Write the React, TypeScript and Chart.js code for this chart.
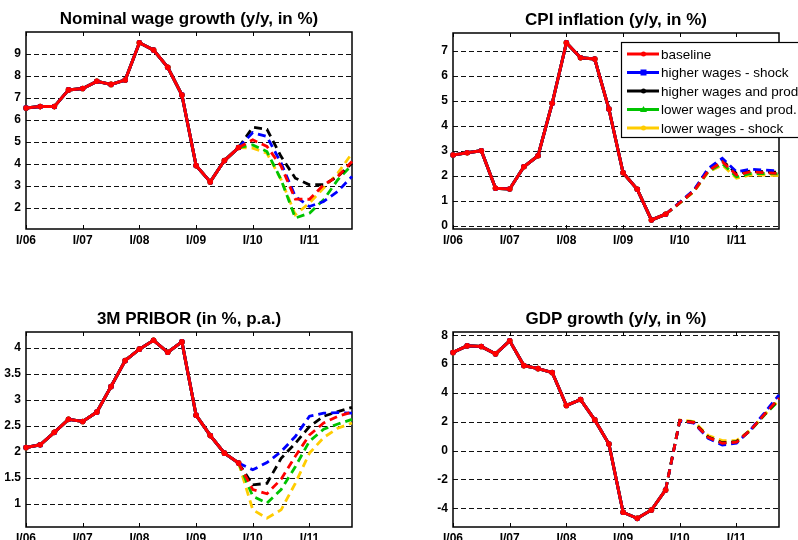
import React, { useEffect, useRef } from 'react';
import { Chart, registerables } from 'chart.js';

Chart.register(...registerables);

// Quarters from I/06 to IV/11
const quarters = [
  'I/06', 'II/06', 'III/06', 'IV/06',
  'I/07', 'II/07', 'III/07', 'IV/07',
  'I/08', 'II/08', 'III/08', 'IV/08',
  'I/09', 'II/09', 'III/09', 'IV/09',
  'I/10', 'II/10', 'III/10', 'IV/10',
  'I/11', 'II/11', 'III/11', 'IV/11',
];

const scenarioNames = [
  'baseline',
  'higher wages - shock',
  'higher wages and prod.',
  'lower wages and prod.',
  'lower wages - shock',
];
const scenarioColors = ['#ff0000', '#0000ff', '#000000', '#00c400', '#ffcc00'];
const scenarioMarkers = ['circle', 'rect', 'circle', 'triangle', 'circle'];

// Nominal wage growth (y/y, in %)
const wageHistory = [6.55, 6.61, 6.61, 7.37, 7.43, 7.76, 7.62, 7.82, 9.51, 9.18, 8.40, 7.14, 3.93, 3.19, 4.16, 4.75];
const wageBaseline = [5.10, 4.80, 3.90, 2.41, 2.40, 3.06, 3.44, 4.12];
const wageHigherShock = [5.43, 5.25, 4.04, 2.53, 2.07, 2.30, 2.76, 3.44];
const wageHigherProd = [5.67, 5.58, 4.34, 3.36, 3.06, 3.06, 3.44, 4.04];
const wageLowerProd = [4.87, 4.57, 3.29, 1.55, 1.77, 2.38, 3.29, 3.97];
const wageLowerShock = [4.72, 4.49, 3.29, 1.70, 2.23, 2.91, 3.59, 4.49];
const wageTicks = [2, 3, 4, 5, 6, 7, 8, 9];

// CPI inflation (y/y, in %)
const cpiHistory = [2.84, 2.93, 3.01, 1.51, 1.48, 2.37, 2.81, 4.91, 7.33, 6.73, 6.68, 4.68, 2.13, 1.47, 0.24, 0.47];
const cpiBaseline = [0.93, 1.40, 2.20, 2.57, 2.04, 2.17, 2.13, 2.10];
const cpiHigherShock = [0.95, 1.44, 2.30, 2.71, 2.17, 2.27, 2.24, 2.20];
const cpiHigherProd = [0.94, 1.42, 2.25, 2.62, 2.10, 2.20, 2.17, 2.15];
const cpiLowerProd = [0.92, 1.39, 2.18, 2.50, 1.97, 2.10, 2.10, 2.08];
const cpiLowerShock = [0.91, 1.37, 2.15, 2.44, 1.91, 2.04, 2.04, 2.01];
const cpiTicks = [0, 1, 2, 3, 4, 5, 6, 7];

// 3M PRIBOR (in %, p.a.)
const priborHistory = [2.09, 2.14, 2.38, 2.63, 2.59, 2.77, 3.26, 3.76, 3.98, 4.15, 3.92, 4.12, 2.71, 2.32, 1.98, 1.79];
const priborBaseline = [1.28, 1.20, 1.48, 1.92, 2.33, 2.56, 2.69, 2.77];
const priborHigherShock = [1.66, 1.80, 2.01, 2.30, 2.69, 2.75, 2.76, 2.75];
const priborHigherProd = [1.37, 1.40, 1.88, 2.17, 2.49, 2.69, 2.78, 2.86];
const priborLowerProd = [1.15, 1.02, 1.28, 1.72, 2.21, 2.44, 2.54, 2.63];
const priborLowerShock = [0.89, 0.73, 0.89, 1.40, 1.98, 2.28, 2.46, 2.56];
const priborTicks = [1, 1.5, 2, 2.5, 3, 3.5, 4];

// GDP growth (y/y, in %)
const gdpHistory = [6.81, 7.27, 7.22, 6.71, 7.62, 5.90, 5.69, 5.42, 3.13, 3.54, 2.13, 0.46, -4.28, -4.70, -4.12, -2.73];
const gdpBaseline = [2.08, 1.94, 0.92, 0.51, 0.58, 1.43, 2.55, 3.63];
const gdpHigherShock = [2.06, 1.90, 0.85, 0.39, 0.51, 1.45, 2.65, 3.87];
const gdpHigherProd = [2.10, 1.96, 0.95, 0.55, 0.62, 1.43, 2.55, 3.60];
const gdpLowerProd = [2.09, 1.95, 0.93, 0.52, 0.60, 1.40, 2.50, 3.47];
const gdpLowerShock = [2.13, 2.02, 1.05, 0.69, 0.70, 1.45, 2.50, 3.50];
const gdpTicks = [-4, -2, 0, 2, 4, 6, 8];

const FONT = '"Liberation Sans", Arial, Helvetica, sans-serif';
const LAST_ACTUAL = 15;

type Panel = {
  title: string;
  history: number[];
  forecasts: number[][];
  ticks: number[];
  min: number;
  max: number;
  left: number;
  top: number;
  yAxisWidth: number;
  padRight: number;
  padTop: number;
  xAxisHeight: number;
  legend: boolean;
};

const panels: Panel[] = [
  {
    title: 'Nominal wage growth (y/y, in %)',
    history: wageHistory,
    forecasts: [wageBaseline, wageHigherShock, wageHigherProd, wageLowerProd, wageLowerShock],
    ticks: wageTicks, min: 1.05, max: 10,
    left: 0, top: 0, yAxisWidth: 26, padRight: 47, padTop: 32, xAxisHeight: 41, legend: false,
  },
  {
    title: 'CPI inflation (y/y, in %)',
    history: cpiHistory,
    forecasts: [cpiBaseline, cpiHigherShock, cpiHigherProd, cpiLowerProd, cpiLowerShock],
    ticks: cpiTicks, min: -0.12, max: 7.72,
    left: 399, top: 0, yAxisWidth: 54, padRight: 19, padTop: 33, xAxisHeight: 41, legend: true,
  },
  {
    title: '3M PRIBOR (in %, p.a.)',
    history: priborHistory,
    forecasts: [priborBaseline, priborHigherShock, priborHigherProd, priborLowerProd, priborLowerShock],
    ticks: priborTicks, min: 0.56, max: 4.31,
    left: 0, top: 270, yAxisWidth: 26, padRight: 47, padTop: 62, xAxisHeight: 13, legend: false,
  },
  {
    title: 'GDP growth (y/y, in %)',
    history: gdpHistory,
    forecasts: [gdpBaseline, gdpHigherShock, gdpHigherProd, gdpLowerProd, gdpLowerShock],
    ticks: gdpTicks, min: -5.3, max: 8.23,
    left: 399, top: 270, yAxisWidth: 54, padRight: 19, padTop: 62, xAxisHeight: 13, legend: false,
  },
];

const CANVAS_W = 399;
const CANVAS_H = 270;

// Dashed horizontal grid, box frame and year tick marks
const framePlugin = {
  id: 'panelFrame',
  beforeDatasetsDraw(chart: any) {
    const { ctx, chartArea: a, scales } = chart;
    const ys = scales.y;
    const xs = scales.x;
    ctx.save();
    ctx.strokeStyle = '#111';
    ctx.lineWidth = 1;
    ctx.setLineDash([5, 3]);
    ys.ticks.forEach((t: any) => {
      const py = Math.round(ys.getPixelForValue(t.value)) + 0.5;
      ctx.beginPath();
      ctx.moveTo(a.left, py);
      ctx.lineTo(a.right, py);
      ctx.stroke();
    });
    ctx.setLineDash([]);
    ctx.strokeStyle = '#000';
    ctx.lineWidth = 1.5;
    ctx.strokeRect(a.left, a.top, a.right - a.left, a.bottom - a.top);
    ctx.lineWidth = 1;
    quarters.forEach((q, i) => {
      if (!q.startsWith('I/')) return;
      const px = Math.round(xs.getPixelForValue(i)) + 0.5;
      ctx.beginPath();
      ctx.moveTo(px, a.bottom);
      ctx.lineTo(px, a.bottom - 4);
      ctx.moveTo(px, a.top);
      ctx.lineTo(px, a.top + 4);
      ctx.stroke();
    });
    ctx.restore();
  },
};

const titlePlugin = {
  id: 'panelTitle',
  afterDraw(chart: any) {
    const opts = chart.options.plugins.panelTitle;
    if (!opts) return;
    const { ctx, chartArea: a } = chart;
    ctx.save();
    ctx.fillStyle = '#000';
    ctx.font = `bold 17px ${FONT}`;
    ctx.textAlign = 'center';
    ctx.textBaseline = 'alphabetic';
    ctx.fillText(opts.text, (a.left + a.right) / 2, a.top - 8);
    ctx.restore();
  },
};

function drawMarker(ctx: CanvasRenderingContext2D, style: string, x: number, y: number, color: string) {
  ctx.fillStyle = color;
  ctx.beginPath();
  if (style === 'rect') {
    ctx.rect(x - 3, y - 3, 6, 6);
  } else if (style === 'triangle') {
    ctx.moveTo(x, y - 3.5);
    ctx.lineTo(x + 3.5, y + 2.5);
    ctx.lineTo(x - 3.5, y + 2.5);
    ctx.closePath();
  } else {
    ctx.arc(x, y, 2.5, 0, Math.PI * 2);
  }
  ctx.fill();
}

const legendPlugin = {
  id: 'scenarioLegend',
  afterDraw(chart: any) {
    const opts = chart.options.plugins.scenarioLegend;
    if (!opts || !opts.show) return;
    const { ctx } = chart;
    const boxX = 222.5;
    const boxY = 42.5;
    const boxW = 200;
    const boxH = 95;
    ctx.save();
    ctx.fillStyle = '#fff';
    ctx.fillRect(boxX, boxY, boxW, boxH);
    ctx.strokeStyle = '#000';
    ctx.lineWidth = 1.2;
    ctx.strokeRect(boxX, boxY, boxW, boxH);
    ctx.font = `13.5px ${FONT}`;
    ctx.textBaseline = 'middle';
    ctx.textAlign = 'left';
    scenarioNames.forEach((name, k) => {
      const y = 54 + k * 18.5;
      ctx.strokeStyle = scenarioColors[k];
      ctx.lineWidth = 3;
      ctx.beginPath();
      ctx.moveTo(228, y);
      ctx.lineTo(260, y);
      ctx.stroke();
      drawMarker(ctx, scenarioMarkers[k], 244.5, y, scenarioColors[k]);
      ctx.fillStyle = '#000';
      ctx.fillText(name, 262, y + 1);
    });
    ctx.restore();
  },
};

function buildConfig(p: Panel): any {
  const datasets = scenarioNames.map((name, k) => ({
    label: name,
    data: [...p.history, ...p.forecasts[k]],
    borderColor: scenarioColors[k],
    backgroundColor: scenarioColors[k],
    borderWidth: 3,
    tension: 0,
    pointStyle: scenarioMarkers[k],
    pointRadius: (c: any) => (c.dataIndex <= LAST_ACTUAL ? (k === 1 ? 3.3 : 2.8) : 0),
    pointBorderWidth: 0,
    pointHoverRadius: 0,
    segment: {
      borderDash: (c: any) => (c.p0DataIndex >= LAST_ACTUAL ? [8, 5] : undefined),
      borderWidth: (c: any) => (c.p0DataIndex >= LAST_ACTUAL ? 2.8 : 3),
    },
  }));

  return {
    type: 'line',
    data: { labels: quarters, datasets },
    plugins: [framePlugin, titlePlugin, legendPlugin],
    options: {
      animation: false,
      responsive: false,
      devicePixelRatio: 1,
      events: [],
      layout: { padding: { left: 0, right: p.padRight, top: p.padTop, bottom: 0 } },
      plugins: {
        legend: { display: false },
        tooltip: { enabled: false },
        title: { display: false },
        panelTitle: { text: p.title },
        scenarioLegend: { show: p.legend },
      },
      scales: {
        x: {
          type: 'category',
          offset: false,
          grid: { display: false, drawTicks: false },
          border: { display: false },
          ticks: {
            autoSkip: false,
            maxRotation: 0,
            minRotation: 0,
            padding: 4,
            color: '#000',
            font: { family: FONT, size: 12, weight: 'bold' },
            callback: (_v: any, i: number) => (quarters[i].startsWith('I/') ? quarters[i] : ''),
          },
          afterFit: (s: any) => { s.height = p.xAxisHeight; },
        },
        y: {
          type: 'linear',
          min: p.min,
          max: p.max,
          grid: { display: false, drawTicks: false },
          border: { display: false },
          afterBuildTicks: (s: any) => { s.ticks = p.ticks.map((v) => ({ value: v })); },
          ticks: {
            padding: 5,
            color: '#000',
            font: { family: FONT, size: 12, weight: 'bold' },
            callback: (v: any) => String(v),
          },
          afterFit: (s: any) => { s.width = p.yAxisWidth; },
        },
      },
    },
  };
}

function PanelChart({ panel }: { panel: Panel }) {
  const ref = useRef<HTMLCanvasElement | null>(null);
  useEffect(() => {
    if (!ref.current) return;
    const chart = new Chart(ref.current, buildConfig(panel));
    return () => chart.destroy();
  }, [panel]);
  return (
    <canvas
      ref={ref}
      width={CANVAS_W}
      height={CANVAS_H}
      style={{
        position: 'absolute',
        left: panel.left,
        top: panel.top,
        width: CANVAS_W,
        height: CANVAS_H,
      }}
    />
  );
}

export default function App() {
  return (
    <div
      style={{
        position: 'absolute',
        left: 0,
        top: 0,
        width: 798,
        height: 540,
        background: '#fff',
        overflow: 'hidden',
      }}
    >
      {panels.map((p) => (
        <PanelChart key={p.title} panel={p} />
      ))}
    </div>
  );
}
